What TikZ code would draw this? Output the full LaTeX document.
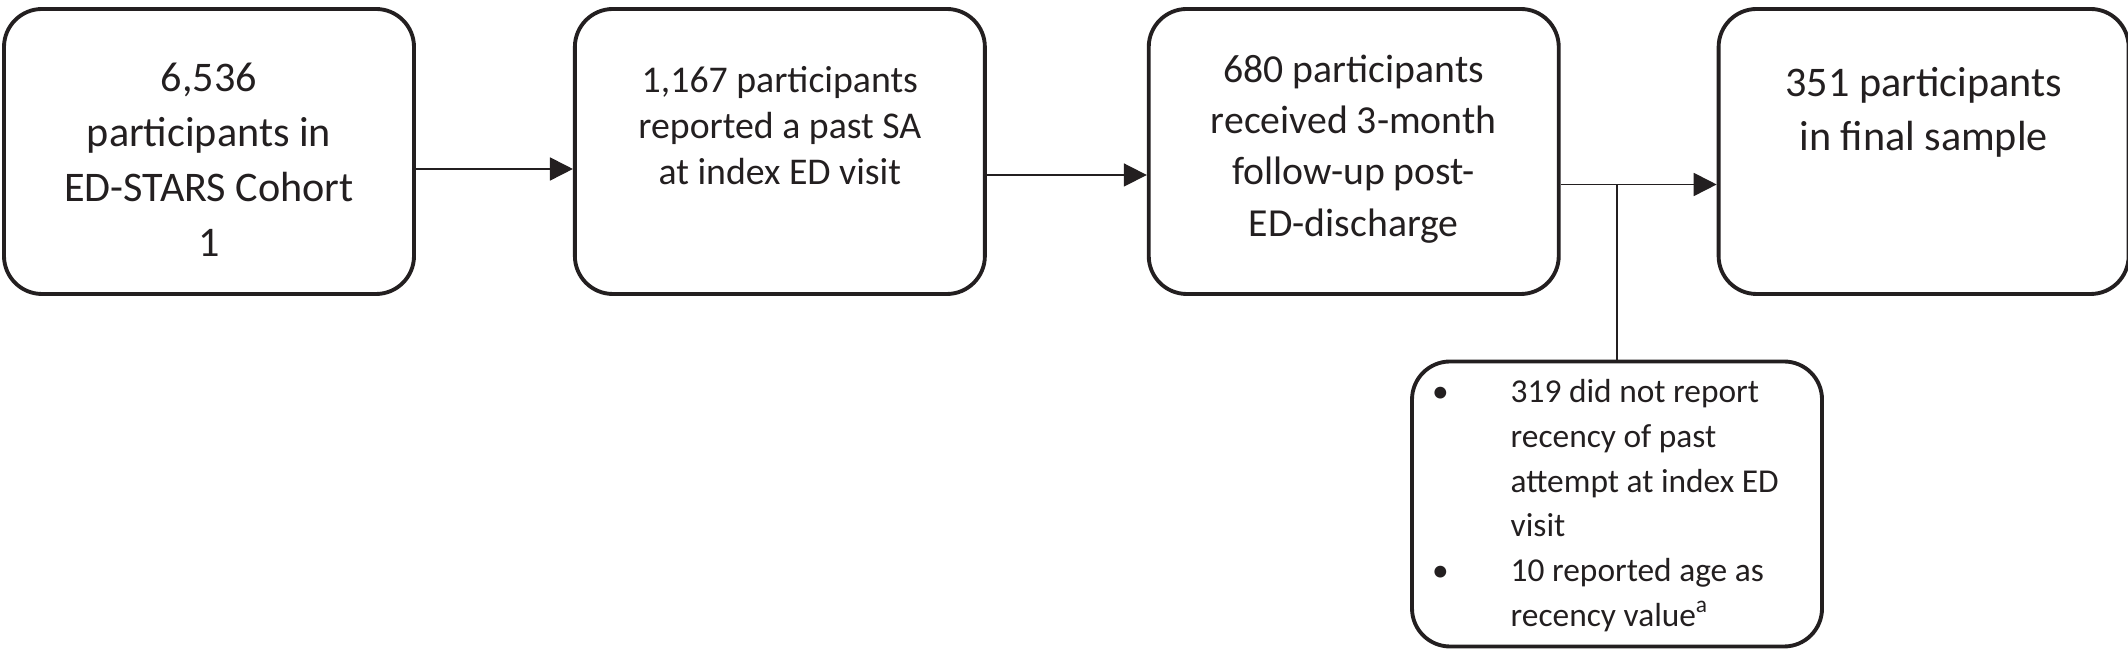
\documentclass[tikz,border=0pt]{standalone}
\usepackage{fontspec}
\setmainfont{Carlito}
\usepackage{tikz}
\usetikzlibrary{arrows.meta, positioning}
\definecolor{inkblack}{RGB}{35, 31, 32}

\begin{document}
\begin{tikzpicture}[
    stage/.style={draw=inkblack, line width=1.1pt, rounded corners=0.38cm,
                  minimum width=4.1cm, minimum height=2.85cm, inner sep=0pt},
    stagetext/.style={anchor=north, align=center, inner sep=0pt, text=inkblack, font=#1},
    flow/.style={draw=inkblack, line width=0.5pt, -{Triangle[length=0.23cm, width=0.23cm]}},
    link/.style={draw=inkblack, line width=0.5pt}
]
    \useasboundingbox (0,0) rectangle (21.28,-6.65);

    % boxes
    \node[stage] (cohort) at (2.09,-1.515) {};
    \node[stage, right=1.57cm of cohort] (pastsa) {};
    \node[stage, right=1.6cm of pastsa] (followup) {};
    \node[stage, right=1.56cm of followup] (final) {};
    \node[stage] (excluded) at (16.17,-5.04) {};

    % texts
    \node[stagetext={\fontsize{12}{15.7}\selectfont}, below=0.55cm of cohort.north] (cohorttxt)
        {6,536\\participants in\\ED-STARS Cohort\\1};
    \node[stagetext={\fontsize{10.75}{13.1}\selectfont}, below=0.59cm of pastsa.north] (pastsatxt)
        {1,167 participants\\reported a past SA\\at index ED visit};
    \node[stagetext={\fontsize{11.3}{14.6}\selectfont}, below=0.47cm of followup.north] (followuptxt)
        {680 participants\\received 3-month\\follow-up post-\\ED-discharge};
    \node[stagetext={\fontsize{12}{15.2}\selectfont}, below=0.6cm of final.north] (finaltxt)
        {351 participants\\in final sample};
    \node[anchor=north west, align=left, inner sep=0pt, text=inkblack,
          font=\fontsize{9.5}{12.7}\selectfont] (excludedtxt) at (15.10,-3.79)
        {\llap{\textbullet\hspace{0.62cm}}319 did not report\\recency of past\\attempt at index ED\\visit\\
         \llap{\textbullet\hspace{0.62cm}}10 reported age as\\recency value\textsuperscript{a}};

    % connectors
    \coordinate[yshift=-0.175cm] (a1) at (cohort.east);
    \coordinate[yshift=-0.235cm] (a2) at (pastsa.east);
    \coordinate[yshift=-0.33cm] (a3) at (followup.east);
    \draw[flow] (a1) -- (a1 -| pastsa.west);
    \draw[flow] (a2) -- (a2 -| followup.west);
    \draw[flow] (a3) -- (a3 -| final.west);
    \coordinate (j) at (excluded.north |- a3);
    \draw[link] (excluded.north) -- (j);
\end{tikzpicture}
\end{document}
